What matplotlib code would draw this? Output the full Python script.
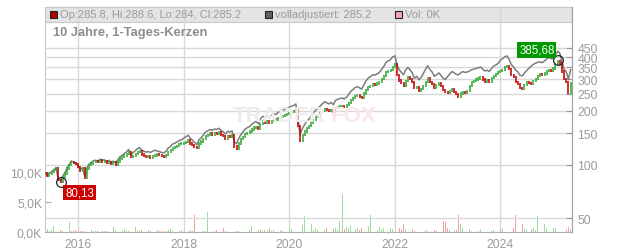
import matplotlib
matplotlib.use("Agg")
import matplotlib.pyplot as plt
import matplotlib.ticker as mticker
from matplotlib.patches import Rectangle
import numpy as np
import pandas as pd

plt.rcParams["font.family"] = ["Liberation Sans", "DejaVu Sans"]

close_2015 = [89.0, 86.0, 88.5, 91.0, 93.0, 95.5, 82.0, 80.2, 85.5, 89.0, 95.0, 99.5, 103.8, 102.0, 100.5]
close_2016 = [97.0, 92.0, 95.0, 84.5, 94.5, 99.0, 101.5, 103.5, 104.2, 103.0, 105.5, 104.0,
              104.5, 102.0, 103.8, 101.0, 102.5, 100.0, 104.0, 108.0, 110.0, 112.5, 114.5, 118.0]
close_2017 = [110.0, 112.0, 115.0, 117.5, 118.5, 114.0, 112.0, 110.5, 111.0, 109.5, 111.5, 112.5,
              114.0, 113.0, 111.5, 110.8, 113.5, 118.0, 120.5, 124.0, 125.5, 127.5, 130.0, 131.0]
close_2018 = [131.5, 134.0, 136.5, 131.0, 128.5, 125.0, 123.5, 131.0, 134.5, 139.0, 145.0, 147.0,
              149.5, 147.5, 150.0, 149.0, 151.0, 147.0, 144.0, 140.0, 145.0, 143.5, 145.5, 126.0]
close_2019 = [123.0, 131.0, 138.5, 143.0, 148.0, 150.5, 153.0, 157.0, 161.0, 163.0, 158.0, 168.5,
              174.0, 172.0, 175.5, 170.5, 176.0, 180.0, 177.5, 182.0, 185.0, 187.5, 189.0, 192.5]
close_2020 = [194.0, 196.5, 198.0, 201.0, 165.0, 136.0, 146.0, 153.0, 160.0, 164.0, 172.0, 178.0,
              184.0, 188.0, 194.0, 199.0, 205.0, 202.0, 199.0, 203.0, 197.0, 208.0, 211.0, 212.5]
close_2021 = [213.0, 210.0, 215.0, 222.0, 230.0, 235.0, 242.0, 244.0, 240.0, 236.0, 250.0, 262.0,
              272.0, 276.0, 283.0, 281.0, 285.0, 290.0, 302.0, 312.0, 330.0, 334.0, 340.0, 352.0]
close_2022 = [364.0, 318.0, 296.0, 286.0, 276.0, 295.0, 310.0, 302.0, 290.0, 268.0, 272.0, 258.0,
              265.0, 276.0, 290.0, 304.0, 290.0, 282.0, 270.0, 278.0, 284.0, 276.0, 262.0, 255.0]
close_2023 = [252.0, 258.0, 264.0, 256.0, 248.0, 240.0, 250.0, 255.0, 252.0, 258.0, 276.0, 290.0,
              294.0, 300.0, 304.0, 310.0, 300.0, 292.0, 296.0, 290.0, 306.0, 314.0, 322.0, 330.0]
close_2024 = [334.0, 340.0, 352.0, 357.0, 342.0, 318.0, 308.0, 290.0, 283.0, 268.0, 265.0, 278.0,
              290.0, 286.0, 282.0, 294.0, 302.0, 312.0, 321.0, 318.0, 324.0, 334.0, 338.0, 333.0]
close_2025 = [345.0, 366.0, 380.0, 368.0, 332.0, 302.0, 290.0, 252.0, 285.2]

# volladjustiert (graue Linie)
adj_2015 = [90.0, 87.0, 89.0, 91.5, 93.5, 96.0, 82.8, 81.0, 86.3, 89.8, 95.8, 100.4, 104.8, 103.0, 101.5]
adj_2016 = [98.3, 93.2, 96.3, 85.8, 95.8, 100.4, 103.0, 105.0, 105.8, 104.6, 107.2, 105.7,
            106.3, 103.8, 105.7, 102.9, 104.5, 102.0, 106.2, 110.4, 112.8, 115.5, 117.8, 121.5]
adj_2017 = [114.0, 116.5, 120.0, 123.0, 124.5, 120.5, 118.8, 117.4, 118.2, 116.8, 119.0, 120.2,
            119.0, 118.2, 116.8, 116.2, 119.1, 123.9, 126.5, 130.2, 131.8, 133.9, 136.5, 137.5]
adj_2018 = [140.5, 143.2, 145.8, 140.0, 137.3, 133.6, 129.0, 137.5, 141.3, 146.0, 152.5, 154.6,
            157.3, 155.4, 158.2, 157.3, 159.6, 155.5, 152.4, 148.2, 153.6, 152.1, 154.3, 133.8]
adj_2019 = [131.2, 139.8, 147.8, 152.6, 158.0, 160.7, 163.4, 167.7, 172.0, 174.2, 169.0, 180.3,
            186.2, 184.2, 188.0, 182.7, 188.8, 193.2, 190.6, 195.6, 198.9, 201.8, 203.6, 207.5]
adj_2020 = [209.5, 212.5, 214.5, 218.5, 180.0, 148.5, 159.5, 167.2, 175.0, 179.4, 188.2, 194.8,
            201.5, 206.0, 212.6, 218.2, 224.9, 221.7, 218.5, 223.0, 216.5, 228.8, 232.2, 234.1]
adj_2021 = [236.0, 233.0, 239.0, 247.5, 256.5, 262.5, 270.5, 273.0, 268.8, 264.5, 280.5, 294.5,
            306.0, 311.0, 319.0, 317.0, 322.0, 328.0, 342.0, 354.0, 374.5, 380.0, 387.0, 401.0]
adj_2022 = [406.0, 360.0, 338.0, 328.0, 318.0, 338.0, 350.0, 340.0, 326.0, 304.0, 312.0, 298.0,
            308.0, 322.0, 342.0, 358.0, 340.0, 330.0, 312.0, 318.0, 326.0, 316.0, 304.0, 300.0]
adj_2023 = [312.0, 322.0, 332.0, 326.0, 320.0, 318.0, 326.0, 332.0, 328.0, 330.0, 334.0, 340.0,
            342.0, 346.0, 348.0, 352.0, 342.0, 334.0, 338.0, 332.0, 346.0, 356.0, 362.0, 368.0]
adj_2024 = [384.0, 392.0, 402.0, 406.0, 388.0, 364.0, 352.0, 338.0, 330.0, 316.0, 314.0, 326.0,
            336.0, 346.0, 356.0, 364.0, 370.0, 374.0, 376.0, 372.0, 380.0, 390.0, 398.0, 392.0]
adj_2025 = [392.0, 412.0, 432.0, 420.0, 378.0, 344.0, 330.0, 300.0, 340.0]

# Volumen in Tausend
vol_2015 = [0.2, 0.5, 0.1, 0.3, 1.0, 0.2, 0.1, 0.3, 0.2, 0.4, 0.1, 1.7, 0.2, 0.1, 0.3]
vol_2016 = [0.3, 0.1, 0.2, 0.1, 0.2, 0.1, 0.3, 0.2, 0.1, 0.2, 0.4, 0.1,
            0.2, 0.1, 0.3, 0.1, 0.8, 0.2, 0.1, 0.3, 0.1, 0.5, 0.2, 0.1]
vol_2017 = [0.2, 2.9, 0.8, 0.1, 0.2, 0.3, 0.1, 0.2, 0.3, 0.1, 0.2, 0.1,
            0.3, 0.1, 0.2, 0.1, 0.1, 0.3, 0.5, 0.2, 0.4, 0.1, 0.2, 0.3]
vol_2018 = [0.2, 0.8, 0.1, 0.3, 0.2, 2.8, 0.2, 0.1, 0.3, 0.2, 0.1, 3.4,
            1.0, 0.3, 0.2, 0.4, 0.2, 0.3, 0.6, 0.2, 0.1, 0.3, 0.2, 0.1]
vol_2019 = [0.2, 0.1, 0.3, 0.2, 0.1, 0.2, 0.4, 1.0, 0.3, 0.4, 0.3, 0.5,
            0.2, 0.4, 0.3, 0.5, 0.2, 0.3, 0.2, 0.4, 0.3, 0.2, 0.6, 0.4]
vol_2020 = [0.3, 0.5, 0.8, 1.4, 1.0, 0.7, 1.2, 2.6, 0.6, 0.5, 1.4, 0.4,
            0.7, 0.3, 3.1, 0.5, 0.4, 0.6, 1.3, 0.4, 0.5, 0.7, 0.4, 1.8]
vol_2021 = [6.3, 0.5, 0.9, 0.6, 1.1, 2.1, 0.5, 0.7, 0.4, 0.6, 0.5, 0.3,
            1.0, 2.8, 0.6, 1.0, 0.4, 0.8, 0.5, 0.6, 0.9, 2.2, 0.7, 0.5]
vol_2022 = [1.1, 0.9, 0.6, 0.3, 1.3, 0.5, 0.4, 0.3, 0.5, 0.2, 0.4, 0.3,
            0.2, 0.3, 0.4, 0.2, 0.3, 0.5, 0.3, 0.2, 0.3, 0.5, 1.8, 1.7]
vol_2023 = [0.6, 0.3, 0.5, 0.2, 0.4, 2.9, 1.4, 0.6, 0.4, 0.3, 0.5, 0.2,
            0.4, 0.3, 0.2, 0.5, 0.3, 0.2, 0.4, 0.3, 0.2, 0.3, 1.4, 0.5]
vol_2024 = [0.4, 0.6, 0.5, 0.8, 0.7, 2.7, 0.6, 2.8, 8.3, 0.6, 1.3, 0.5,
            0.4, 0.7, 0.5, 0.6, 0.4, 2.6, 2.9, 0.5, 1.4, 0.6, 0.8, 0.5]
vol_2025 = [0.7, 0.6, 0.9, 3.5, 0.5, 0.6, 0.4, 0.8, 0.5]

close = np.array(close_2015 + close_2016 + close_2017 + close_2018 + close_2019 + close_2020
                 + close_2021 + close_2022 + close_2023 + close_2024 + close_2025)
adj = np.array(adj_2015 + adj_2016 + adj_2017 + adj_2018 + adj_2019 + adj_2020
               + adj_2021 + adj_2022 + adj_2023 + adj_2024 + adj_2025)
vol = np.array(vol_2015 + vol_2016 + vol_2017 + vol_2018 + vol_2019 + vol_2020
               + vol_2021 + vol_2022 + vol_2023 + vol_2024 + vol_2025)
dates = pd.date_range("2015-05-15", "2025-05-01", freq="SMS")

max_high = 385.68
min_low = 80.13
legend_txt = "Op:285.8, Hi:288.6, Lo:284, Cl:285.2"
adj_txt = "volladjustiert: 285.2"
vol_txt = "Vol: 0K"
price_ticks = [50, 100, 150, 200, 250, 300, 350, 400, 450]
vol_ticks = [0, 5, 10]
year_ticks = [2016, 2018, 2020, 2022, 2024]

# ── Farben ──────────────────────────────────────────────────────────────────
UP, DOWN = "#33a833", "#c40000"
VUP, VDOWN = "#9ddc9d", "#f2a0a8"
GRID = "#d8d8d8"
TXT = "#9a9a9a"

W, H = 632, 253
L, R, T, B = 45, 572, 8, 233
fig = plt.figure(figsize=(W / 100, H / 100), dpi=100)
ax = fig.add_axes([L / W, 1 - B / H, (R - L) / W, (B - T) / H])
axp = ax.twinx()

# ── Legendenleiste ──────────────────────────────────────────────────────────
bar_h = 15 / (B - T)
ax.add_patch(Rectangle((0, 1 - bar_h), 1, bar_h, transform=ax.transAxes,
                       facecolor="#e4e4e4", edgecolor="#c8c8c8", lw=0.8, zorder=0.5))

# ── Volumen ─────────────────────────────────────────────────────────────────
opens = np.concatenate([[close[0]], close[:-1]])
up = close >= opens
ax.bar(dates, vol, width=4, color=np.where(up, VUP, VDOWN), zorder=2)
ax.set_ylim(0, 37.5)
ax.set_yticks(vol_ticks)
ax.yaxis.set_major_formatter(mticker.FuncFormatter(lambda v, p: f"{v:.1f}K".replace(".", ",")))
ax.set_xlim(pd.Timestamp("2015-05-16"), pd.Timestamp("2025-05-10"))
ax.set_xticks([pd.Timestamp(f"{y}-01-01") for y in year_ticks])
ax.set_xticklabels([str(y) for y in year_ticks])
ax.grid(True, axis="x", color=GRID, lw=1.0)
ax.tick_params(axis="x", length=0, pad=4, labelsize=8.7, labelcolor=TXT)
ax.tick_params(axis="y", direction="in", length=4, color="#aaaaaa", pad=2,
               labelsize=8.7, labelcolor=TXT)

# ── Kurs (log) ──────────────────────────────────────────────────────────────
axp.set_yscale("log")
axp.set_ylim(41.9, 763)
axp.yaxis.set_minor_locator(mticker.NullLocator())
axp.set_yticks(price_ticks)
axp.set_yticklabels([str(v) for v in price_ticks])
axp.tick_params(axis="y", direction="in", length=4, color="#999999", pad=4,
                labelsize=8.7, labelcolor=TXT)
axp.grid(True, axis="y", color=GRID, lw=1.0)
axp.set_axisbelow(True)

axp.plot(dates, adj, color="#7d7d7d", lw=1.1, zorder=3)
lo = np.minimum(opens, close) / 1.015
hi = np.maximum(opens, close) * 1.015
axp.vlines(dates, lo, hi, colors=np.where(up, UP, DOWN), lw=1.15, zorder=4)

# Hoch / Tief markieren
i_max = int(np.argmax(close))
i_min = int(np.argmin(close))
axp.plot(dates[i_max], max_high, "o", ms=7, mfc="none", mec="#222222", mew=0.9, zorder=6)
axp.plot(dates[i_min], min_low, "o", ms=7, mfc="none", mec="#222222", mew=0.9, zorder=6)
axp.annotate(f"{max_high:.2f}".replace(".", ","), (dates[i_max], max_high),
             xytext=(-21, 10), textcoords="offset pixels", ha="center", va="center",
             fontsize=8.3, color="white", zorder=7,
             bbox=dict(boxstyle="square,pad=0.15", fc="#009a00", ec="none"))
axp.annotate(f"{min_low:.2f}".replace(".", ","), (dates[i_min], min_low),
             xytext=(19, -11), textcoords="offset pixels", ha="center", va="center",
             fontsize=8.3, color="white", zorder=7,
             bbox=dict(boxstyle="square,pad=0.15", fc="#cc0000", ec="none"))

# ── Rahmen ──────────────────────────────────────────────────────────────────
for s in ax.spines.values():
    s.set_color("#c8c8c8")
ax.spines["bottom"].set_color("#b0b0b0")
for k in ["left", "top", "bottom"]:
    axp.spines[k].set_visible(False)
axp.spines["right"].set_color("#a0a0a0")

# ── Texte ───────────────────────────────────────────────────────────────────
def fx(x):
    return x / W

def fy(y):
    return 1 - y / H

for sx, fc in [(50, "#b00000"), (265, "#606060"), (395, "#f2a6b4")]:
    fig.patches.append(Rectangle((fx(sx), fy(19)), 7 / W, 7 / H, transform=fig.transFigure,
                                 facecolor=fc, edgecolor="#222222", lw=0.8, zorder=5))
fig.text(fx(60), fy(15.5), legend_txt, fontsize=8, color=TXT, va="center")
fig.text(fx(275), fy(15.5), adj_txt, fontsize=8, color=TXT, va="center")
fig.text(fx(405), fy(15.5), vol_txt, fontsize=8, color=TXT, va="center")
fig.text(fx(53), fy(33), "10 Jahre, 1-Tages-Kerzen", fontsize=9.3, fontweight="bold",
         color="#8c8c8c", va="center")

# Wasserzeichen
fig.text(fx(233), fy(117), "TRADER", fontsize=16, fontweight="bold", color="#ececec",
         va="center", zorder=0)
fig.text(fx(331), fy(117), "FOX", fontsize=16, fontweight="bold", color="#fce6e8",
         va="center", zorder=0)

fig.savefig("out.png", dpi=100)
